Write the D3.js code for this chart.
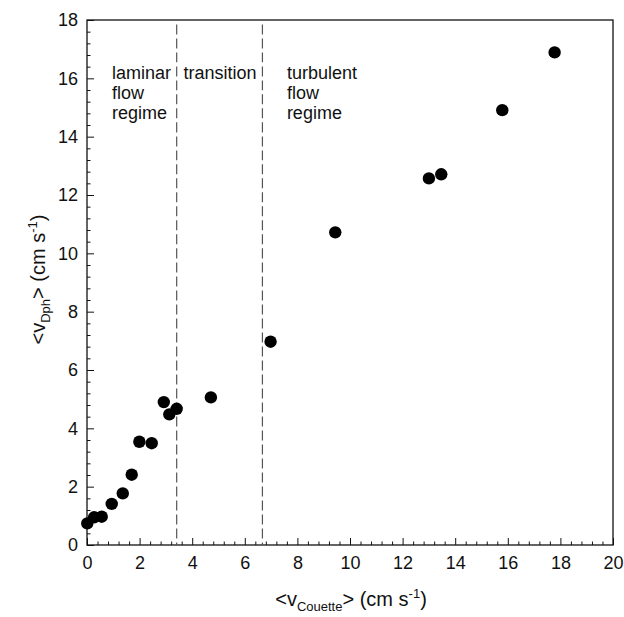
<!DOCTYPE html>
<html>
<head>
<meta charset="utf-8">
<script src="https://cdn.jsdelivr.net/npm/d3@7"></script>
<style>
  html, body { margin: 0; padding: 0; background: #fff; }
  svg { display: block; font-family: "Liberation Sans", Arial, sans-serif; }
</style>
</head>
<body>
<svg id="chart" width="624" height="617"></svg>
<script>
// ---- data ----
const xCouette = [0.01, 0.27, 0.56, 0.94, 1.36, 1.70, 1.99, 2.46, 2.92, 3.13, 3.41, 4.71, 6.98, 9.44, 13.0, 13.47, 15.79, 17.78];
const vDph     = [0.74, 0.95, 0.97, 1.41, 1.77, 2.41, 3.54, 3.49, 4.90, 4.48, 4.67, 5.06, 6.97, 10.72, 12.57, 12.71, 14.91, 16.89];
const xTicks = [0, 2, 4, 6, 8, 10, 12, 14, 16, 18, 20];
const yTicks = [0, 2, 4, 6, 8, 10, 12, 14, 16, 18];
const minorStep = 0.4;
const regimeBounds = [3.41, 6.67];
const regimeLabels = [
  { x: 0.95, lines: ["laminar", "flow", "regime"] },
  { x: 3.67, lines: ["transition"] },
  { x: 7.6, lines: ["turbulent", "flow", "regime"] }
];

// ---- layout ----
const svg = d3.select("#chart");
const m = { left: 87, right: 624 - 613, top: 20, bottom: 617 - 545 };
const W = 624 - m.left - m.right, H = 617 - m.top - m.bottom;
const x = d3.scaleLinear().domain([0, 20]).range([m.left, m.left + W]);
const y = d3.scaleLinear().domain([0, 18]).range([m.top + H, m.top]);
const ink = "#111";

// minor ticks
const xMinor = d3.range(0, 20 + 1e-9, minorStep).filter(v => Math.abs(v / 2 - Math.round(v / 2)) > 1e-6);
const yMinor = d3.range(0, 18 + 1e-9, minorStep).filter(v => Math.abs(v / 2 - Math.round(v / 2)) > 1e-6);

const gxMinor = svg.append("g").attr("transform", `translate(0,${m.top + H})`)
  .call(d3.axisBottom(x).tickValues(xMinor).tickSize(-3.5).tickFormat(""));
const gyMinor = svg.append("g").attr("transform", `translate(${m.left},0)`)
  .call(d3.axisLeft(y).tickValues(yMinor).tickSize(-3.5).tickFormat(""));
[gxMinor, gyMinor].forEach(g => { g.select(".domain").remove(); g.selectAll("line").attr("stroke", ink).attr("stroke-width", 1); });

const gx = svg.append("g").attr("transform", `translate(0,${m.top + H})`)
  .call(d3.axisBottom(x).tickValues(xTicks).tickSize(-7).tickPadding(11).tickFormat(d3.format("d")));
const gy = svg.append("g").attr("transform", `translate(${m.left},0)`)
  .call(d3.axisLeft(y).tickValues(yTicks).tickSize(-7).tickPadding(9).tickFormat(d3.format("d")));
[gx, gy].forEach(g => {
  g.select(".domain").remove();
  g.selectAll("line").attr("stroke", ink).attr("stroke-width", 1);
  g.selectAll("text").attr("fill", ink).style("font-size", "18px").style("font-family", "'Liberation Sans', Arial, sans-serif");
});

// frame
svg.append("rect").attr("x", m.left).attr("y", m.top).attr("width", W).attr("height", H)
  .attr("fill", "none").attr("stroke", ink).attr("stroke-width", 1.3);

// regime boundaries
svg.selectAll(".bound").data(regimeBounds).enter().append("line")
  .attr("x1", d => x(d)).attr("x2", d => x(d))
  .attr("y1", y(17.85)).attr("y2", y(0))
  .attr("stroke", "#555").attr("stroke-width", 1.2).attr("stroke-dasharray", "10,4");

// regime labels
regimeLabels.forEach(r => {
  const t = svg.append("text").attr("x", x(r.x)).attr("y", 79)
    .attr("fill", ink).style("font-size", "18px");
  r.lines.forEach((ln, i) => t.append("tspan").attr("x", x(r.x)).attr("dy", i === 0 ? 0 : 20).text(ln));
});

// points
svg.selectAll(".pt").data(xCouette.map((v, i) => [v, vDph[i]])).enter().append("circle")
  .attr("cx", d => x(d[0])).attr("cy", d => y(d[1])).attr("r", 6.2).attr("fill", "#000");

// axis titles
const xt = svg.append("text").attr("x", m.left + W / 2 + 1).attr("y", 606).attr("text-anchor", "middle")
  .attr("fill", ink).style("font-size", "20px");
xt.append("tspan").text("<v");
xt.append("tspan").attr("dy", 5).style("font-size", "13px").text("Couette");
xt.append("tspan").attr("dy", -5).text("> (cm s");
xt.append("tspan").attr("dy", -8).style("font-size", "13px").text("-1");
xt.append("tspan").attr("dy", 8).text(")");

const yt = svg.append("text").attr("transform", `translate(45,${m.top + H / 2 - 3}) rotate(-90)`)
  .attr("text-anchor", "middle").attr("fill", ink).style("font-size", "20px");
yt.append("tspan").text("<v");
yt.append("tspan").attr("dy", 5).style("font-size", "13px").text("Dph");
yt.append("tspan").attr("dy", -5).text("> (cm s");
yt.append("tspan").attr("dy", -8).style("font-size", "13px").text("-1");
yt.append("tspan").attr("dy", 8).text(")");
</script>
</body>
</html>
